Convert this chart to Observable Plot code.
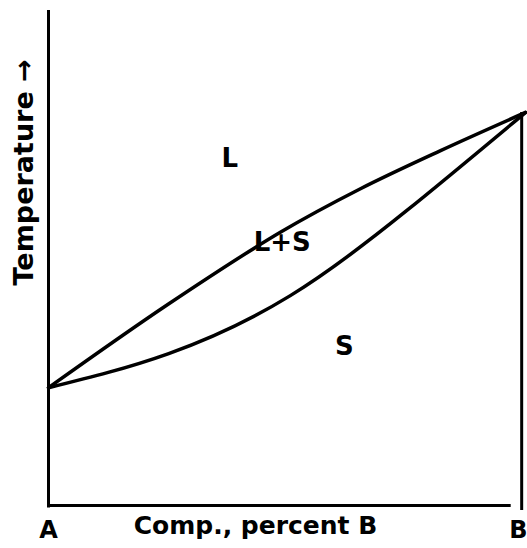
<!DOCTYPE html>
<html>
<head>
<meta charset="utf-8">
<script src="https://cdn.jsdelivr.net/npm/d3@7"></script>
<script src="https://cdn.jsdelivr.net/npm/@observablehq/plot@0.6"></script>
<style>
  html, body { margin: 0; padding: 0; background: #fff; }
  svg { display: block; }
</style>
</head>
<body>
<div id="chart"></div>
<script>
// Composition (percent B) and temperature (relative units, 0–100)
const liquidusX = [0, 25.0, 48.6, 65.4, 82.2, 100];
const liquidusT = [23.8, 40.6, 55.2, 64.0, 71.7, 79.4];
const solidusX  = [0, 25.2, 50.7, 75.0, 100];
const solidusT  = [23.8, 30.7, 42.4, 59.5, 79.4];

const regionLabels = ["L", "L+S", "S"];
const regionX = [38, 49, 62];
const regionT = [70, 53, 32];

const endLabels = ["A", "B"];
const endX = [0, 98.5];

const xLabel = "Comp., percent B";
const yLabel = "Temperature →";

const liquidus = liquidusX.map((x, i) => ({x, t: liquidusT[i]}));
const solidus = solidusX.map((x, i) => ({x, t: solidusT[i]}));
const regions = regionLabels.map((label, i) => ({label, x: regionX[i], t: regionT[i]}));
const ends = endLabels.map((label, i) => ({label, x: endX[i]}));

const font = "'DejaVu Sans', Lato, sans-serif";

const chart = Plot.plot({
  width: 527,
  height: 548,
  marginLeft: 48,
  marginRight: 2,
  marginTop: 10,
  marginBottom: 43,
  x: {domain: [0, 100], axis: null},
  y: {domain: [0, 100], axis: null},
  style: {fontFamily: font, color: "#000", background: "#fff"},
  marks: [
    // axes frame
    Plot.ruleX([0], {y1: -0.5, y2: 100, stroke: "#000", strokeWidth: 3}),
    Plot.ruleY([0], {x1: 0, x2: 97, stroke: "#000", strokeWidth: 3}),
    Plot.ruleX([99.2], {y1: -1, y2: liquidusT[liquidusT.length - 1], stroke: "#000", strokeWidth: 3}),
    // phase boundaries
    Plot.line(liquidus, {x: "x", y: "t", curve: "catmull-rom", stroke: "#000", strokeWidth: 3.5}),
    Plot.line(solidus, {x: "x", y: "t", curve: "natural", stroke: "#000", strokeWidth: 3.5}),
    // region labels
    Plot.text(regions, {x: "x", y: "t", text: "label", fontSize: 26, fontWeight: "bold", fill: "#000"}),
    // end labels
    Plot.text(ends, {x: "x", y: () => 0, text: "label", dy: 25, fontSize: 24, fontWeight: "bold", fill: "#000"}),
    // x label
    Plot.text([xLabel], {x: () => 43.4, y: () => 0, dy: 20, text: d => d, fontSize: 25, fontWeight: "bold", fill: "#000"}),
    // y label
    Plot.text([yLabel], {x: () => 0, y: () => 67.3, dx: -24, text: d => d, rotate: -90, fontSize: 27, fontWeight: "bold", fill: "#000"})
  ]
});
document.getElementById("chart").appendChild(chart);
</script>
</body>
</html>
